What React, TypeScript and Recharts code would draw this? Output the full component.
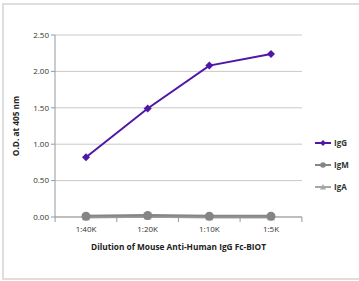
import { LineChart, Line, XAxis, YAxis, CartesianGrid, Legend, Label } from "recharts";

const dilutions = ["1:40K", "1:20K", "1:10K", "1:5K"];
const igG = [0.82, 1.49, 2.08, 2.24];
const igM = [0.01, 0.02, 0.01, 0.01];
const igA = [0.0, 0.01, 0.0, 0.0];
const yTicks = [0, 0.5, 1, 1.5, 2, 2.5];

const data = dilutions.map((d, i) => ({ name: d, IgG: igG[i], IgM: igM[i], IgA: igA[i] }));

const FONT = "'Open Sans', 'DejaVu Sans', sans-serif";
const PURPLE = "#4f16a8";
const GRAY = "#858585";
const LIGHT = "#a6a6a6";

const Diamond = (props: any) => {
  const { cx, cy, fill, size = 4 } = props;
  if (cx == null || cy == null) return null;
  return <path d={`M${cx},${cy - size}L${cx + size},${cy}L${cx},${cy + size}L${cx - size},${cy}Z`} fill={fill} />;
};

const Triangle = (props: any) => {
  const { cx, cy, fill, size = 4 } = props;
  if (cx == null || cy == null) return null;
  return <path d={`M${cx},${cy - size}L${cx + size},${cy + size * 0.8}L${cx - size},${cy + size * 0.8}Z`} fill={fill} />;
};

// tick that also draws the excel style boundary marks between categories
const XTick = (props: any) => {
  const { x, y, payload, index } = props;
  const half = 30.9;
  return (
    <g>
      <line x1={x - half} y1={y - 8} x2={x - half} y2={y - 3} stroke="#999" />
      {index === dilutions.length - 1 && (
        <line x1={x + half} y1={y - 8} x2={x + half} y2={y - 3} stroke="#999" />
      )}
      <text x={x} y={y + 7} textAnchor="middle" fontSize={8} fill="#333" fontFamily={FONT}>
        {payload.value}
      </text>
    </g>
  );
};

const legendItems = [
  { name: "IgG", color: PURPLE, shape: "diamond" },
  { name: "IgM", color: GRAY, shape: "circle" },
  { name: "IgA", color: LIGHT, shape: "triangle" },
];

const LegendBox = () => (
  <svg width={45} height={60} style={{ overflow: "visible", display: "block" }}>
    {legendItems.map((it, i) => {
      const cy = 8 + i * 22;
      return (
        <g key={it.name}>
          <line x1={2} y1={cy} x2={18} y2={cy} stroke={it.color} strokeWidth={2} />
          {it.shape === "diamond" && <Diamond cx={10} cy={cy} fill={it.color} size={3} />}
          {it.shape === "circle" && <circle cx={10} cy={cy} r={2.8} fill={it.color} />}
          {it.shape === "triangle" && <Triangle cx={10} cy={cy} fill={it.color} size={3} />}
          <text x={21} y={cy + 3} fontSize={8} fontWeight="bold" fill="#333" fontFamily={FONT}>
            {it.name}
          </text>
        </g>
      );
    })}
  </svg>
);

export default function App() {
  return (
    <div style={{ position: "fixed", left: 0, top: 0, width: 359, height: 281, background: "#fff" }}>
      <div
        style={{
          position: "absolute",
          left: 2,
          top: 3,
          width: 357,
          height: 277,
          border: "2px solid #dedede",
          borderRight: "none",
          boxSizing: "border-box",
        }}
      />
      <LineChart
        width={359}
        height={281}
        data={data}
        margin={{ top: 35, right: 57, left: 0, bottom: 24 }}
        style={{ position: "absolute", left: 0, top: 0 }}
      >
        <CartesianGrid vertical={false} stroke="#c9c9c9" />
        <XAxis
          dataKey="name"
          height={40}
          axisLine={{ stroke: "#999" }}
          tickLine={false}
          tick={<XTick />}
          interval={0}
          padding={{ left: 31, right: 31 }}
        >
          <Label
            value="Dilution of Mouse Anti-Human IgG Fc-BIOT"
            position="insideBottom"
            offset={7}
            style={{ fontSize: 8.3, fontWeight: "bold", fill: "#222", fontFamily: FONT }}
          />
        </XAxis>
        <YAxis
          width={55}
          domain={[0, 2.5]}
          ticks={yTicks}
          tickFormatter={(v: number) => v.toFixed(2)}
          axisLine={{ stroke: "#999" }}
          tickLine={{ stroke: "#999" }}
          tickSize={4}
          tick={{ fontSize: 8, fill: "#333", fontFamily: FONT }}
        >
          <Label
            value="O.D. at 405 nm"
            angle={-90}
            position="insideLeft"
            offset={16}
            style={{ fontSize: 8.3, fontWeight: "bold", fill: "#222", fontFamily: FONT, textAnchor: "middle" }}
          />
        </YAxis>
        <Legend
          layout="horizontal"
          verticalAlign="middle"
          align="right"
          content={<LegendBox />}
          wrapperStyle={{ left: 313, top: 135, width: 0, height: 0, overflow: "visible" }}
        />
        <Line
          dataKey="IgA"
          stroke={LIGHT}
          strokeWidth={3}
          dot={<Triangle fill={LIGHT} size={4} />}
          isAnimationActive={false}
        />
        <Line
          dataKey="IgM"
          stroke={GRAY}
          strokeWidth={3}
          dot={{ r: 4.5, fill: GRAY, stroke: GRAY, strokeWidth: 0 }}
          isAnimationActive={false}
        />
        <Line
          dataKey="IgG"
          stroke={PURPLE}
          strokeWidth={2}
          dot={<Diamond fill={PURPLE} size={4} />}
          isAnimationActive={false}
        />
      </LineChart>
    </div>
  );
}
